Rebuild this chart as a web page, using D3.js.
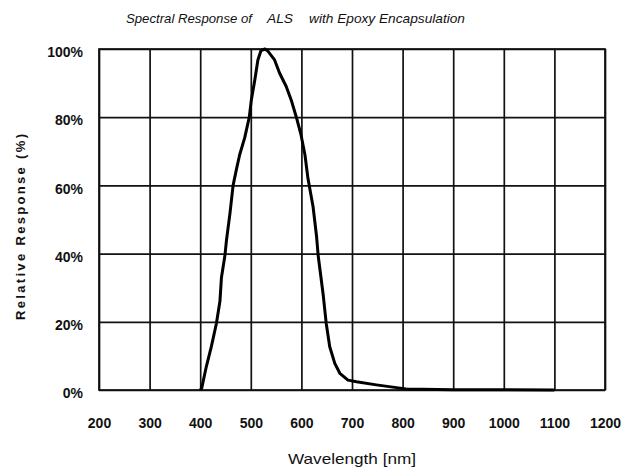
<!DOCTYPE html>
<html>
<head>
<meta charset="utf-8">
<script src="https://cdn.jsdelivr.net/npm/d3@7"></script>
<style>
  html, body { margin: 0; padding: 0; background: #fff; }
  svg { display: block; }
</style>
</head>
<body>
<svg id="chart" width="626" height="474"></svg>
<script>
// ---- Data ----
const wavelength = [400, 403, 412, 422, 432, 439, 442, 449, 452, 459, 465, 472, 478, 488, 497, 501, 508, 514, 520, 528, 533, 547, 557, 570, 580, 590, 599, 607, 613, 623, 630, 633, 643, 649, 656, 666, 676, 692, 709, 748, 788, 807, 900, 1000, 1100];
const response   = [0, 0.5, 6.8, 12.7, 19.5, 26, 33, 39.6, 44, 52, 60, 65, 69, 74, 80, 85, 91, 96.8, 99.5, 100, 99.5, 96.8, 92.9, 89, 85, 80, 75, 69, 62, 53.8, 45, 39.6, 28, 19.6, 12.7, 7.8, 4.9, 2.9, 2.4, 1.5, 0.7, 0.3, 0.1, 0.05, 0];
const xTicks = [200, 300, 400, 500, 600, 700, 800, 900, 1000, 1100, 1200];
const yTicks = [0, 20, 40, 60, 80, 100];
const titleParts = ["Spectral Response of", "ALS", "with Epoxy Encapsulation"];
const xTitle = "Wavelength [nm]";
const yTitle = "Relative Response (%)";

const svg = d3.select("#chart");
const L = 99, R = 605, T = 49, B = 390;

const x = d3.scaleLinear().domain([200, 1200]).range([L, R]);
const y = d3.scaleLinear().domain([0, 100]).range([B, T]);

// plot background
svg.append("rect").attr("x", L).attr("y", T).attr("width", R - L).attr("height", B - T)
  .attr("fill", "#fff");

// vertical grid + x labels via axis
const gx = svg.append("g").attr("transform", `translate(0,${B})`)
  .call(d3.axisBottom(x).tickValues(xTicks).tickSize(-(B - T)).tickPadding(0).tickFormat(d3.format("d")));
gx.select(".domain").remove();
gx.selectAll(".tick line").attr("stroke", "#111").attr("stroke-width", 1.7);
gx.selectAll(".tick text")
  .attr("y", 38).attr("dy", null)
  .attr("fill", "#111")
  .style("font-family", "'Liberation Sans', Arial, sans-serif")
  .style("font-weight", "bold")
  .style("font-size", "14px");

// horizontal grid + y labels via axis
const gy = svg.append("g").attr("transform", `translate(${L},0)`)
  .call(d3.axisLeft(y).tickValues(yTicks).tickSize(-(R - L)).tickPadding(0).tickFormat(d => d + "%"));
gy.select(".domain").remove();
gy.selectAll(".tick line").attr("stroke", "#111").attr("stroke-width", 1.7);
gy.selectAll(".tick text")
  .attr("x", -16).attr("dy", "0.55em")
  .attr("fill", "#111")
  .style("font-family", "'Liberation Sans', Arial, sans-serif")
  .style("font-weight", "bold")
  .style("font-size", "14px");

// frame
svg.append("rect").attr("x", L).attr("y", T).attr("width", R - L).attr("height", B - T)
  .attr("fill", "none").attr("stroke", "#111").attr("stroke-width", 1.7);

// curve
const pts = wavelength.map((w, i) => [w, response[i]]);
svg.append("path")
  .datum(pts)
  .attr("fill", "none")
  .attr("stroke", "#000")
  .attr("stroke-width", 3)
  .attr("stroke-linejoin", "round")
  .attr("d", d3.line().x(d => x(d[0])).y(d => y(d[1])));

// title
const tFont = "'Liberation Sans', Arial, sans-serif";
const titleX = [126, 267, 309];
const titleW = [126, 26, 156];
titleParts.forEach((t, i) => {
  svg.append("text")
    .attr("x", titleX[i]).attr("y", 23)
    .attr("textLength", titleW[i]).attr("lengthAdjust", "spacingAndGlyphs")
    .attr("fill", "#111")
    .style("font-family", tFont)
    .style("font-style", "italic")
    .style("font-size", "13px")
    .text(t);
});

// x title
svg.append("text")
  .attr("x", (L + R) / 2).attr("y", 464)
  .attr("text-anchor", "middle")
  .attr("textLength", 128).attr("lengthAdjust", "spacingAndGlyphs")
  .attr("fill", "#111")
  .style("font-family", tFont)
  .style("font-size", "15px")
  .text(xTitle);

// y title
svg.append("text")
  .attr("transform", "translate(25,227) rotate(-90)")
  .attr("text-anchor", "middle")
  .attr("x", 0).attr("y", 0)
  .attr("textLength", 186).attr("lengthAdjust", "spacing")
  .attr("fill", "#111")
  .style("font-family", tFont)
  .style("font-weight", "bold")
  .style("font-size", "13px")
  .text(yTitle);
</script>
</body>
</html>
